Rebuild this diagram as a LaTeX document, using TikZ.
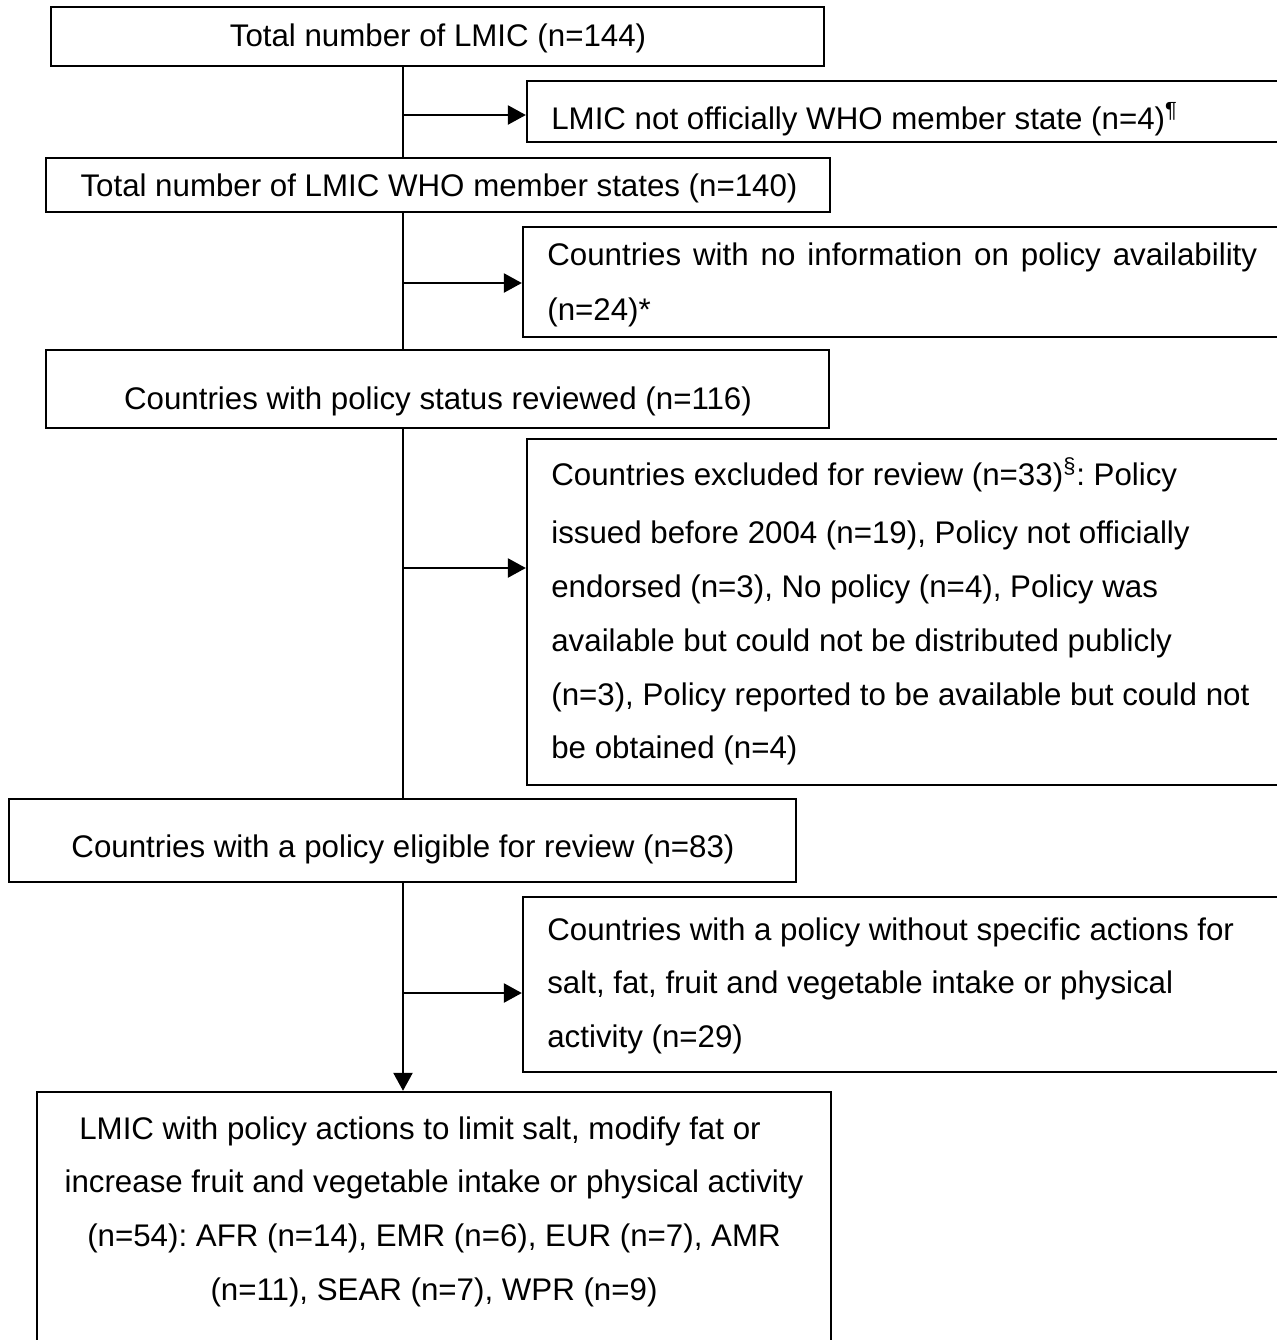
\documentclass[tikz,border=0pt]{standalone}
\usepackage{fontspec}
\setmainfont{Liberation Sans}
\usetikzlibrary{arrows.meta}
\frenchspacing
\newcommand{\leftlines}[1]{\vtop{\halign{##\hfil\cr#1\crcr}}}
\newcommand{\midlines}[1]{\vtop{\halign{\hfil##\hfil\cr#1\crcr}}}
\begin{document}
\begin{tikzpicture}[x=0.02cm,y=-0.02cm,
  box/.style={draw,line width=1.4pt,rectangle,inner sep=0pt},
  txt/.style={inner sep=0pt,font=\fontsize{17.8pt}{30.6pt}\selectfont},
  conn/.style={line width=1.4pt},
  arr/.style={conn,-{Triangle[length=0.36cm,width=0.38cm]}}]
\useasboundingbox (0,0) rectangle (1276,1340);
% boxes
\node[box,minimum width=15.46cm,minimum height=1.18cm] (b1) at (437.5,36.5) {};
\node[box,minimum width=15.46cm,minimum height=1.22cm] (s1) at (913.5,111.5) {};
\node[box,minimum width=15.68cm,minimum height=1.08cm] (b2) at (438,185) {};
\node[box,minimum width=15.54cm,minimum height=2.2cm] (s2) at (911.5,282) {};
\node[box,minimum width=15.66cm,minimum height=1.56cm] (b3) at (437.5,389) {};
\node[box,minimum width=15.46cm,minimum height=6.92cm] (s3) at (913.5,612) {};
\node[box,minimum width=15.74cm,minimum height=1.66cm] (b4) at (402.5,840.5) {};
\node[box,minimum width=15.54cm,minimum height=3.5cm] (s4) at (911.5,984.5) {};
\node[box,minimum width=15.88cm,minimum height=5.36cm] (b5) at (434,1226) {};
% texts
\node[txt,anchor=base] (t1) at (438,46) {Total number of LMIC (n=144)};
\node[txt,anchor=base west] (u1) at (551,129) {LMIC not officially WHO member state (n=4)\textsuperscript{¶}};
\node[txt,anchor=base] (t2) at (439,196) {Total number of LMIC WHO member states (n=140)};
\node[txt,anchor=base west] (u2) at (547,265) {\leftlines{\makebox[14.2cm][s]{Countries with no information on policy availability}\cr\noalign{\vskip0.04cm}(n=24)*}};
\node[txt,anchor=base] (t3) at (438,409) {Countries with policy status reviewed (n=116)};
\node[txt,anchor=base west] (u3) at (551,485) {\leftlines{Countries excluded for review (n=33)\textsuperscript{§}: Policy\cr\noalign{\vskip0.1cm}
issued before 2004 (n=19), Policy not officially\cr
endorsed (n=3), No policy (n=4), Policy was\cr
available but could not be distributed publicly\cr
(n=3), Policy reported to be available but could not\cr
be obtained (n=4)}};
\node[txt,anchor=base] (t4) at (403,857) {Countries with a policy eligible for review (n=83)};
\node[txt,anchor=base west] (u4) at (547,940) {\leftlines{Countries with a policy without specific actions for\cr
salt, fat, fruit and vegetable intake or physical\cr
activity (n=29)}};
\node[txt,anchor=base] (t5) at (434,1139) {\midlines{LMIC with policy actions to limit salt, modify fat or\hspace{0.56cm}\cr
increase fruit and vegetable intake or physical activity\cr
(n=54): AFR (n=14), EMR (n=6), EUR (n=7), AMR\cr
(n=11), SEAR (n=7), WPR (n=9)}};
% trunk
\coordinate (tr) at (403,0);
\draw[conn] (b1.south -| tr) -- (b2.north -| tr);
\draw[conn] (b2.south -| tr) -- (b3.north -| tr);
\draw[conn] (b3.south -| tr) -- (b4.north -| tr);
\draw[arr] (b4.south -| tr) -- (b5.north -| tr);
% side arrows
\coordinate (j1) at (403,115);
\coordinate (j2) at (403,283);
\coordinate (j3) at (403,568);
\coordinate (j4) at (403,993);
\draw[arr] (j1) -- (j1 -| s1.west);
\draw[arr] (j2) -- (j2 -| s2.west);
\draw[arr] (j3) -- (j3 -| s3.west);
\draw[arr] (j4) -- (j4 -| s4.west);
\end{tikzpicture}
\end{document}
